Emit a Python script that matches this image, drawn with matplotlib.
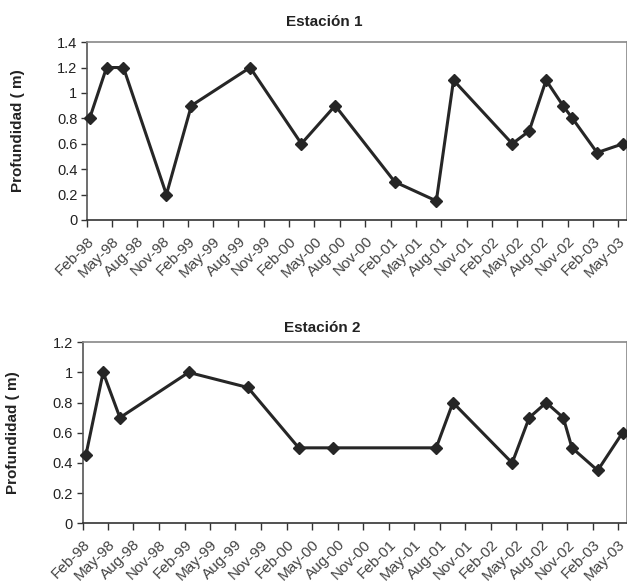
import matplotlib
matplotlib.use("Agg")
import matplotlib.pyplot as plt
import matplotlib.dates as mdates
from matplotlib.ticker import MultipleLocator, FuncFormatter
import numpy as np

plt.rcParams['font.family'] = ['Liberation Sans', 'DejaVu Sans']

# Estacion 1 sampling dates and depths (m)
fechas_1 = ["1998-02-10", "1998-04-12", "1998-06-12", "1998-11-14", "1999-02-12",
            "1999-09-12", "2000-03-15", "2000-07-15", "2001-02-15", "2001-07-15",
            "2001-09-15", "2002-04-15", "2002-06-15", "2002-08-15", "2002-10-15",
            "2002-11-18", "2003-02-15", "2003-05-20"]
prof_1 = [0.8, 1.2, 1.2, 0.2, 0.9, 1.2, 0.6, 0.9, 0.3, 0.15,
          1.1, 0.6, 0.7, 1.1, 0.9, 0.8, 0.53, 0.6]

# Estacion 2
fechas_2 = ["1998-02-12", "1998-04-15", "1998-06-14", "1999-02-15", "1999-09-15",
            "2000-03-15", "2000-07-15", "2001-07-20", "2001-09-18", "2002-04-18",
            "2002-06-18", "2002-08-18", "2002-10-18", "2002-11-18", "2003-02-18",
            "2003-05-18"]
prof_2 = [0.45, 1.0, 0.7, 1.0, 0.9, 0.5, 0.5, 0.5, 0.8, 0.4,
          0.7, 0.8, 0.7, 0.5, 0.35, 0.6]

titulos = ["Estación 1", "Estación 2"]
ymax = [1.4, 1.2]

fig = plt.figure(figsize=(6.27, 5.85), dpi=100)
ax1 = fig.add_axes([0.139, 0.624, 0.861, 0.304])
ax2 = fig.add_axes([0.132, 0.1055, 0.868, 0.3095])

title_pos = [(0.517, 0.962), (0.514, 0.44)]

for ax, fechas, prof, tit, ym, tp in zip([ax1, ax2], [fechas_1, fechas_2],
                                         [prof_1, prof_2], titulos, ymax, title_pos):
    x = np.array(fechas, dtype="datetime64[D]")
    ax.plot(x, prof, color="#262626", lw=2.2, marker="D", markersize=6.5,
            clip_on=False, zorder=3)
    ax.set_xlim(np.datetime64("1998-02-01"), np.datetime64("2003-06-03"))
    ax.set_ylim(0, ym)
    ax.yaxis.set_major_locator(MultipleLocator(0.2))
    ax.yaxis.set_major_formatter(FuncFormatter(lambda v, p: "%g" % round(v, 1)))
    ax.xaxis.set_major_locator(mdates.MonthLocator(bymonth=[2, 5, 8, 11], bymonthday=1))
    ax.xaxis.set_major_formatter(mdates.DateFormatter("%b-%y"))
    for lab in ax.get_xticklabels():
        lab.set_rotation(45)
        lab.set_ha("right")
        lab.set_rotation_mode("anchor")
    ax.tick_params(axis="x", labelsize=11, length=5, width=1, color="#333333",
                   labelcolor="#444444", pad=5)
    ax.tick_params(axis="y", labelsize=10.5, length=4, width=1, color="#333333",
                   labelcolor="#222222", pad=3)
    ax.spines["left"].set_color("#555555")
    ax.spines["bottom"].set_color("#333333")
    ax.spines["top"].set_color("#888888")
    ax.spines["right"].set_color("#888888")
    for s in ax.spines.values():
        s.set_linewidth(1.2)
    ax.set_ylabel("Profundidad ( m)", fontsize=11, fontweight="bold", color="#222222")
    ax.yaxis.set_label_coords(-0.115, 0.5)
    fig.text(tp[0], tp[1], tit, ha="center", va="center", fontsize=11,
             fontweight="bold", color="#222222")

fig.savefig("out.png", dpi=100)
